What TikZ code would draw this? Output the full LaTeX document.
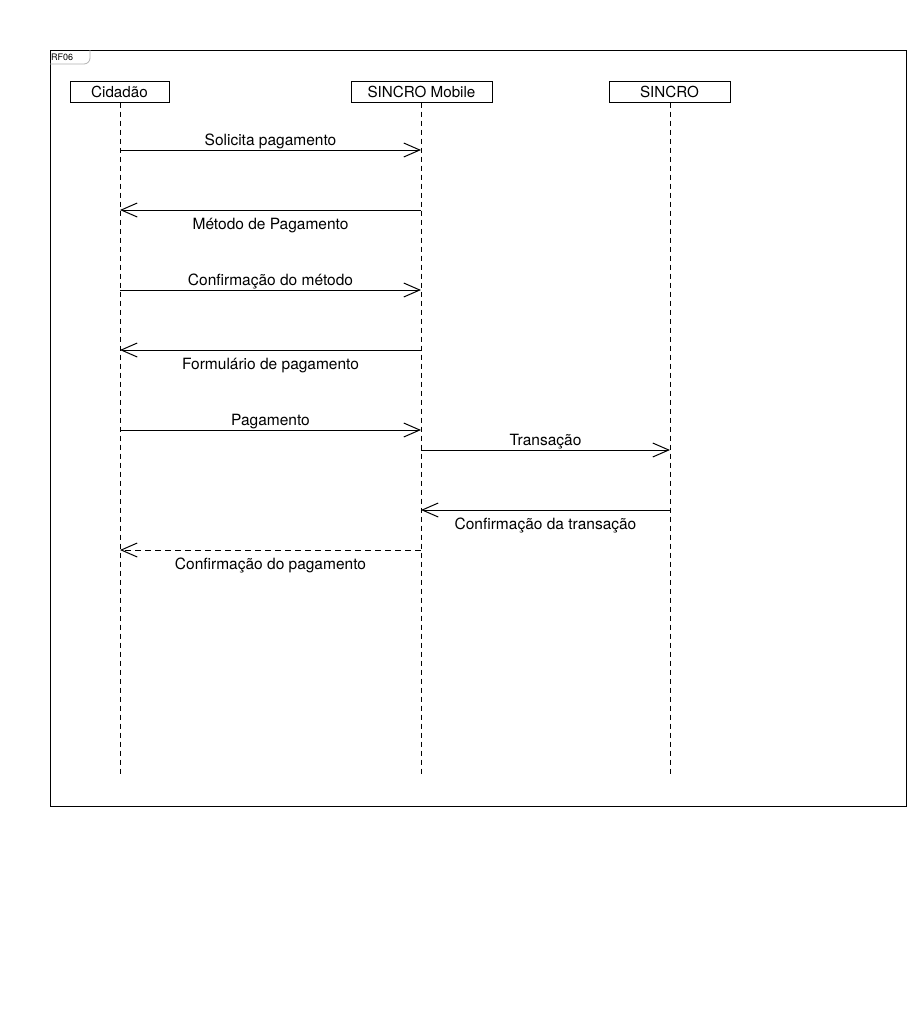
\documentclass[tikz,border=0pt]{standalone}
\usepackage{fontspec}
\setmainfont{TeX Gyre Heros}
\usetikzlibrary{arrows.meta}
\begin{document}
\begin{tikzpicture}[x=1pt,y=-1pt,
  part/.style={draw, line width=1pt, minimum height=21pt, inner sep=0pt, font=\fontsize{15.2}{17}\selectfont},
  life/.style={line width=0.8pt, dash pattern=on 5pt off 4pt},
  msg/.style={line width=1pt, -{Straight Barb[length=16pt,width=14pt,line width=1pt]}},
  rmsg/.style={msg, dash pattern=on 6pt off 4pt},
  lbl/.style={font=\fontsize{15.5}{17}\selectfont, inner sep=0pt, text height=11pt, text depth=3.5pt}]
\useasboundingbox (0,0) rectangle (917,1020);
\fill[white] (0,0) rectangle (917,1020);
% frame
\node[draw, line width=1pt, minimum width=856pt, minimum height=756pt, inner sep=0pt, anchor=north west] (frame) at (50,50) {};
\draw[gray!60, line width=0.8pt] (50,64) -- (84,64) to[out=0,in=-90] (90,58) -- (90,50);
\node[anchor=west, inner sep=0pt, font=\fontsize{9}{10}\selectfont] (lab) at (51,57.5) {RF06};
% participants
\node[part, minimum width=99pt] (cid) at (119.5,91.5) {Cidadão};
\node[part, minimum width=141pt] (mob) at (421.5,91.5) {SINCRO Mobile};
\node[part, minimum width=121pt] (sin) at (669.5,91.5) {SINCRO};
% lifeline ends
\coordinate (cidE) at (120,777);
\coordinate (mobE) at (421,777);
\coordinate (sinE) at (670,777);
\draw[life] (cid.south -| cidE) -- (cidE);
\draw[life] (mob.south -| mobE) -- (mobE);
\draw[life] (sin.south -| sinE) -- (sinE);
% message anchors
\foreach \n/\y in {1/150,2/210,3/290,4/350,5/430,8/550}{
  \coordinate (c\n) at (120,\y);
  \coordinate (m\n) at (421,\y);
}
\foreach \n/\y in {6/450,7/510}{
  \coordinate (m\n) at (421,\y);
  \coordinate (s\n) at (670,\y);
}
\draw[msg] (c1) -- node[lbl, above=1pt] {Solicita pagamento} (m1);
\draw[msg] (m2) -- node[lbl, below=7.5pt] {Método de Pagamento} (c2);
\draw[msg] (c3) -- node[lbl, above=1pt] {Confirmação do método} (m3);
\draw[msg] (m4) -- node[lbl, below=7.5pt] {Formulário de pagamento} (c4);
\draw[msg] (c5) -- node[lbl, above=1pt] {Pagamento} (m5);
\draw[msg] (m6) -- node[lbl, above=1pt] {Transação} (s6);
\draw[msg] (s7) -- node[lbl, below=7.5pt] {Confirmação da transação} (m7);
\draw[rmsg] (m8) -- node[lbl, below=7.5pt] {Confirmação do pagamento} (c8);
\end{tikzpicture}
\end{document}
